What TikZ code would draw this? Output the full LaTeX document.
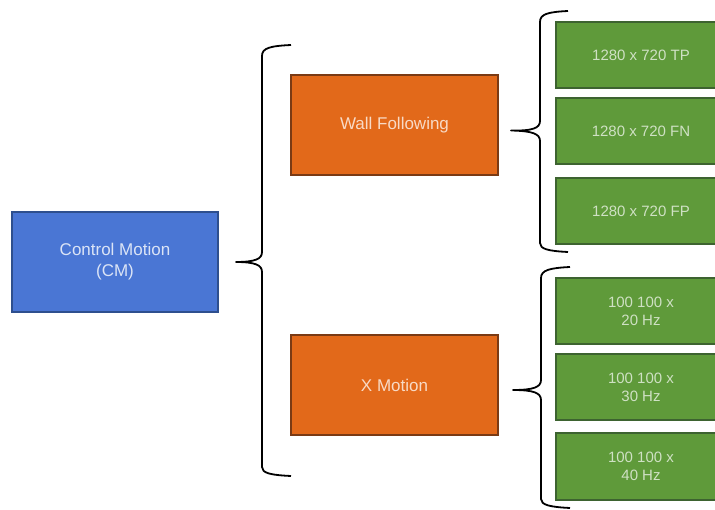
\documentclass[tikz,border=0pt]{standalone}
\usepackage{fontspec}
\setmainfont{Liberation Sans}
\usetikzlibrary{positioning,calc}
\definecolor{MB}{HTML}{4A76D4}
\definecolor{MBd}{HTML}{2E4F8E}
\definecolor{OR}{HTML}{E2691A}
\definecolor{ORd}{HTML}{7A3A14}
\definecolor{GR}{HTML}{5F9A3A}
\definecolor{GRd}{HTML}{3D6330}
\tikzset{
  mainbox/.style={draw=MBd, fill=MB, line width=2pt, minimum width=206pt,
    minimum height=100pt, align=center, text=white!80!MB, font=\fontsize{17}{21}\selectfont},
  modebox/.style={draw=ORd, fill=OR, line width=2pt, minimum width=207pt,
    minimum height=100pt, align=center, text=white!75!OR, font=\fontsize{17}{21}\selectfont},
  valbox/.style={draw=GRd, fill=GR, line width=2pt, minimum width=170pt,
    minimum height=66pt, align=center, text=white!70!GR, font=\fontsize{15}{18}\selectfont},
  brace/.style={draw=black, line width=1.8pt, line join=round}
}
\begin{document}
\begin{tikzpicture}[x=1pt,y=-1pt]
  \useasboundingbox (0,0) rectangle (715,510);
  \clip (0,0) rectangle (715,510);

  % left column
  \node[mainbox] (cm) at (115,262) {Control Motion\\(CM)};

  % middle column
  \node[modebox] (wall) at (394.5,125.5) {Wall Following};
  \node[modebox] (xmot) at (394.5,385) {X Motion};

  % right column
  \node[valbox] (g1) at (641,55)    {1280 x 720 TP};
  \node[valbox] (g2) at (641,131.5) {1280 x 720 FN};
  \node[valbox] (g3) at (641,211)   {1280 x 720 FP};
  \node[valbox] (g4) at (641,311.5) {100 100 x\\20 Hz};
  \node[valbox] (g5) at (641,387.5) {100 100 x\\30 Hz};
  \node[valbox] (g6) at (641,466.5) {100 100 x\\40 Hz};

  % braces
  \coordinate (tipA) at ($(cm.east)+(17,0)$);
  \coordinate (tipB) at ($(wall.east)+(12,5)$);
  \coordinate (tipC) at ($(xmot.east)+(14,5)$);

  \draw[brace] (291,45) .. controls (270,46) and (262,48) .. (262,56)
    -- (262,252) .. controls (262,259) and (255,262) .. (tipA)
    .. controls (255,262) and (262,265) .. (262,272)
    -- (262,467) .. controls (262,473) and (270,475) .. (291,476);

  \draw[brace] (568,11) .. controls (548,12) and (540,14) .. (540,22)
    -- (540,121) .. controls (540,128) and (533,131) .. (tipB)
    .. controls (533,131) and (540,134) .. (540,141)
    -- (540,243) .. controls (540,249) and (548,251) .. (568,252);

  \draw[brace] (570,267) .. controls (550,268) and (541,270) .. (541,278)
    -- (541,380) .. controls (541,387) and (534,390) .. (tipC)
    .. controls (534,390) and (541,393) .. (541,400)
    -- (541,499) .. controls (541,505) and (550,507) .. (570,508);
\end{tikzpicture}
\end{document}
